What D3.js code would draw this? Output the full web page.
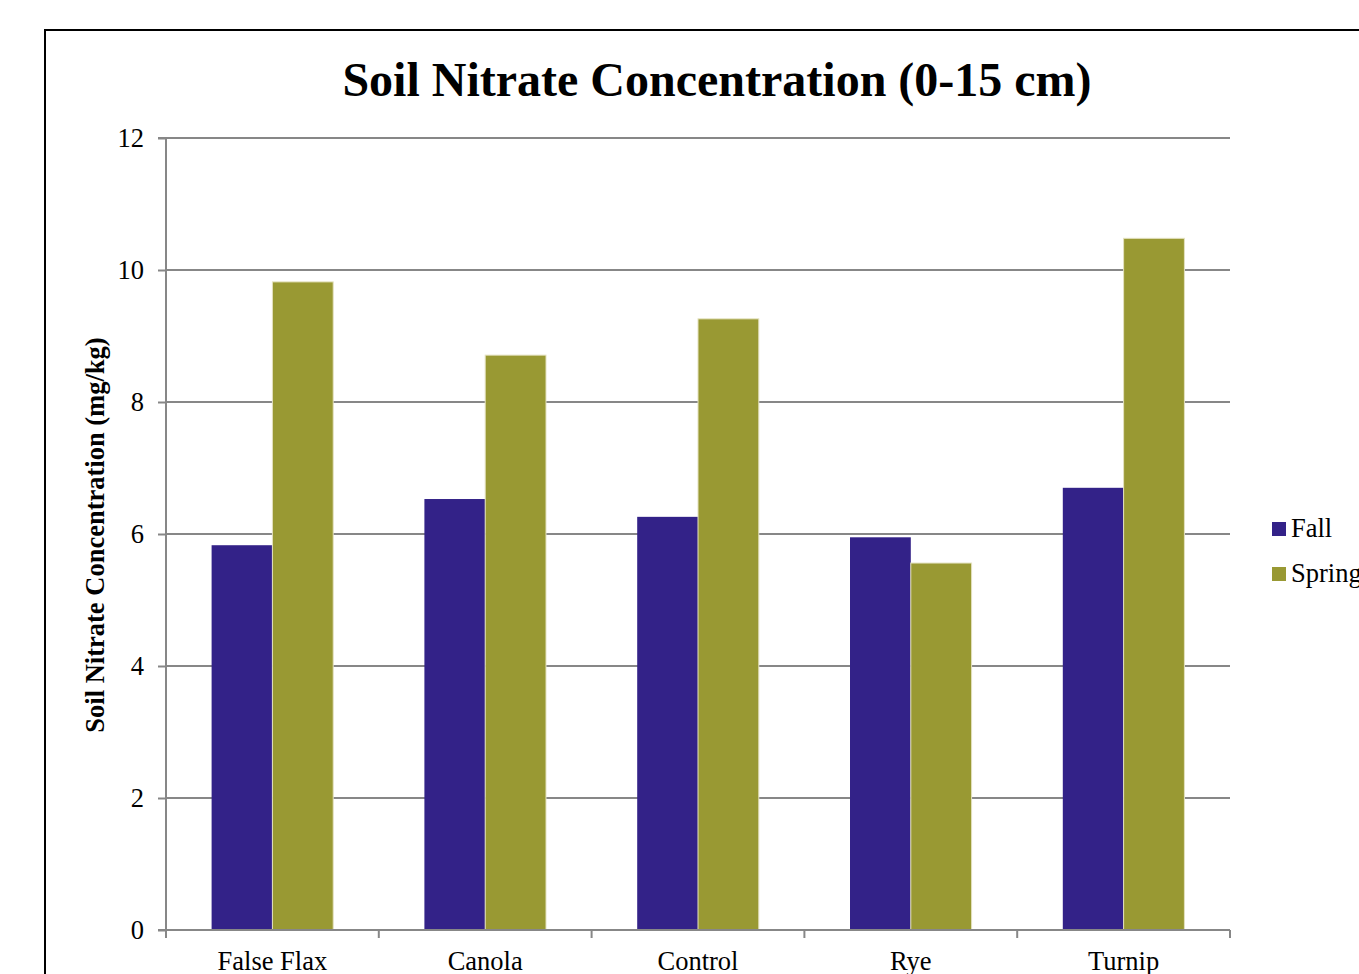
<!DOCTYPE html>
<html>
<head>
<meta charset="utf-8">
<script src="https://cdn.jsdelivr.net/npm/d3@7"></script>
<style>
  html, body { margin: 0; padding: 0; background: #fff; overflow: hidden; }
  svg { display: block; font-family: "Liberation Serif", "Times New Roman", serif; }
</style>
</head>
<body>
<svg id="chart" width="1359" height="974"></svg>
<script>
// Soil nitrate concentration (mg/kg) in the 0-15 cm layer, by cover crop and season
const categories = ["False Flax", "Canola", "Control", "Rye", "Turnip"];
const seriesNames = ["Fall", "Spring"];
const fallValues = [5.83, 6.53, 6.26, 5.95, 6.70];
const springValues = [9.82, 8.71, 9.26, 5.56, 10.48];
const yTicks = [0, 2, 4, 6, 8, 10, 12];
const colors = ["#332288", "#999933"];

const svg = d3.select("#chart");

// outer frame
svg.append("rect")
  .attr("x", 45).attr("y", 30)
  .attr("width", 1340).attr("height", 980)
  .attr("fill", "#fff").attr("stroke", "#000").attr("stroke-width", 2);

const plot = { left: 166, right: 1230, top: 138, bottom: 930 };

const x0 = d3.scaleBand()
  .domain(categories)
  .range([plot.left, plot.right])
  .paddingInner(0)
  .paddingOuter(0);

const x1 = d3.scaleBand()
  .domain(seriesNames)
  .range([0, x0.bandwidth()])
  .paddingInner(0)
  .paddingOuter(0.75);

const y = d3.scaleLinear().domain([0, 12]).range([plot.bottom, plot.top]);

// gridlines
svg.append("g")
  .selectAll("line")
  .data(yTicks.filter(d => d > 0))
  .join("line")
  .attr("x1", plot.left).attr("x2", plot.right)
  .attr("y1", d => y(d)).attr("y2", d => y(d))
  .attr("stroke", "#878787").attr("stroke-width", 2);

// bars
const rows = categories.map((c, i) => ({ cat: c, vals: [fallValues[i], springValues[i]] }));
const groups = svg.append("g").selectAll("g")
  .data(rows)
  .join("g")
  .attr("transform", d => `translate(${x0(d.cat)},0)`);

groups.selectAll("rect")
  .data(d => d.vals.map((v, j) => ({ key: seriesNames[j], v, j })))
  .join("rect")
  .attr("x", d => x1(d.key))
  .attr("y", d => y(d.v))
  .attr("width", x1.bandwidth())
  .attr("height", d => y(0) - y(d.v))
  .attr("fill", d => colors[d.j])
  .attr("stroke", d => d.j === 1 ? "#e4e2c0" : "none")
  .attr("stroke-width", 1);

// y axis
const yAxis = d3.axisLeft(y).tickValues(yTicks).tickSize(8).tickPadding(14).tickFormat(d3.format("d"));
const gy = svg.append("g").attr("transform", `translate(${plot.left},0)`).call(yAxis);
gy.select(".domain").attr("stroke", "#878787").attr("stroke-width", 2).attr("d", `M-8,${plot.top}H0V${plot.bottom}H-8`);
gy.selectAll(".tick line").attr("stroke", "#878787").attr("stroke-width", 2);
gy.selectAll(".tick text")
  .attr("font-family", "Liberation Serif, Times New Roman, serif")
  .attr("font-size", 26.5).attr("fill", "#000");

// x axis
const gx = svg.append("g").attr("transform", `translate(0,${plot.bottom})`);
gx.append("line")
  .attr("x1", plot.left - 8).attr("x2", plot.right)
  .attr("y1", 0).attr("y2", 0)
  .attr("stroke", "#878787").attr("stroke-width", 2);
const boundaries = categories.map(c => x0(c)).concat([x0(categories[categories.length - 1]) + x0.bandwidth()]);
gx.selectAll("line.tk")
  .data(boundaries)
  .join("line")
  .attr("class", "tk")
  .attr("x1", d => d).attr("x2", d => d)
  .attr("y1", 0).attr("y2", 8)
  .attr("stroke", "#878787").attr("stroke-width", 2);
gx.selectAll("text")
  .data(categories)
  .join("text")
  .attr("x", d => x0(d) + x0.bandwidth() / 2)
  .attr("y", 40)
  .attr("text-anchor", "middle")
  .attr("font-size", 26.5)
  .attr("fill", "#000")
  .text(d => d);

// title
svg.append("text")
  .attr("x", 717).attr("y", 96)
  .attr("text-anchor", "middle")
  .attr("font-size", 48).attr("font-weight", "bold")
  .text("Soil Nitrate Concentration (0-15 cm)");

// y axis title
svg.append("text")
  .attr("transform", "translate(104,535) rotate(-90)")
  .attr("text-anchor", "middle")
  .attr("font-size", 26.5).attr("font-weight", "bold")
  .text("Soil Nitrate Concentration (mg/kg)");

// legend
const legend = svg.append("g").selectAll("g")
  .data(seriesNames)
  .join("g")
  .attr("transform", (d, i) => `translate(1272,${522 + i * 45})`);
legend.append("rect")
  .attr("width", 14).attr("height", 14)
  .attr("fill", (d, i) => colors[i]);
legend.append("text")
  .attr("x", 19).attr("y", 15)
  .attr("font-size", 26.5)
  .text(d => d);
</script>
</body>
</html>
